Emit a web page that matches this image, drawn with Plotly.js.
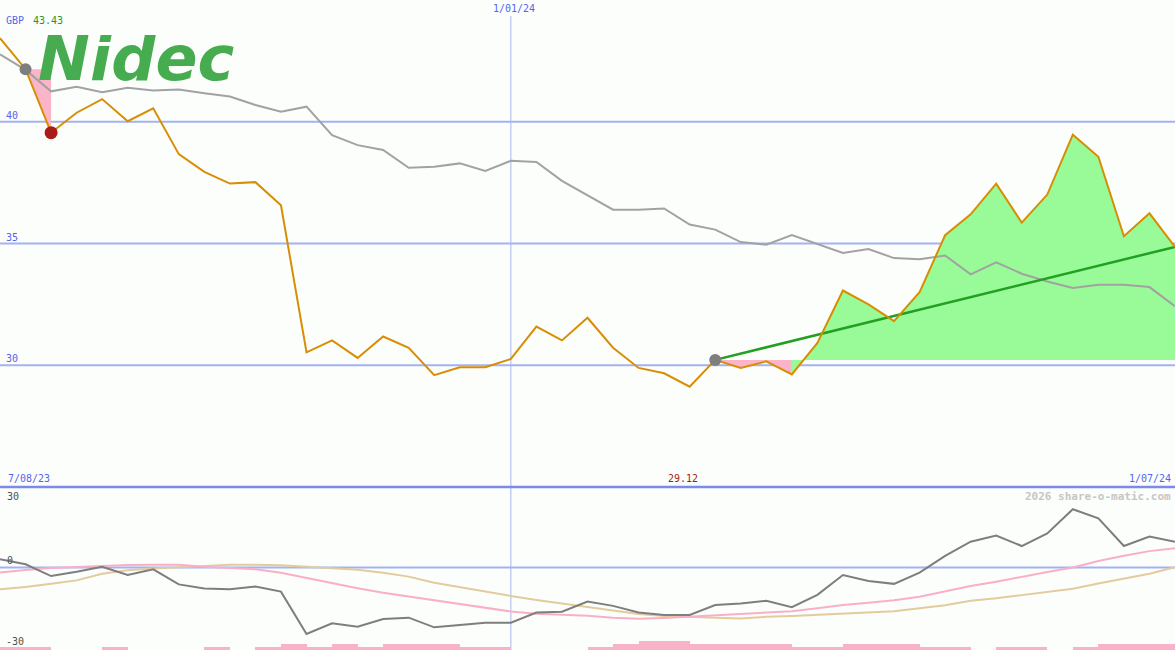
<!DOCTYPE html>
<html>
<head>
<meta charset="utf-8">
<script src="https://cdn.plot.ly/plotly-3.0.1.min.js"></script>
<style>
html,body{margin:0;padding:0;background:#FCFEFC;}
#chart{width:1175px;height:650px;}
</style>
</head>
<body>
<div id="chart"></div>
<script>
// ---- data ----
const dates = [
  '2023-08-07','2023-08-14','2023-08-21','2023-08-28','2023-09-04','2023-09-11','2023-09-18','2023-09-25',
  '2023-10-02','2023-10-09','2023-10-16','2023-10-23','2023-10-30','2023-11-06','2023-11-13','2023-11-20',
  '2023-11-27','2023-12-04','2023-12-11','2023-12-18',
  '2024-01-01','2024-01-08','2024-01-15','2024-01-22','2024-01-29','2024-02-05','2024-02-12','2024-02-19',
  '2024-02-26','2024-03-04','2024-03-11','2024-03-18','2024-03-25','2024-04-01','2024-04-08','2024-04-15',
  '2024-04-22','2024-04-29','2024-05-06','2024-05-13','2024-05-20','2024-05-27','2024-06-03','2024-06-10',
  '2024-06-17','2024-06-24','2024-07-01'
];
const price = [43.43, 42.16, 39.55, 40.37, 40.93, 40.02, 40.55, 38.67, 37.94, 37.46,
               37.52, 36.57, 30.53, 31.02, 30.30, 31.18, 30.72, 29.59, 29.92, 29.92,
               30.26, 31.59, 31.02, 31.95, 30.72, 29.89, 29.67, 29.12, 30.22, 29.89,
               30.16, 29.62, 30.92, 33.07, 32.50, 31.81, 33.00, 35.34, 36.20, 37.46,
               35.86, 37.01, 39.47, 38.56, 35.30, 36.24, 34.86];
const movingAvg = [42.77, 42.13, 41.25, 41.44, 41.21, 41.40, 41.28, 41.32, 41.17, 41.04,
                   40.69, 40.41, 40.62, 39.45, 39.04, 38.84, 38.11, 38.15, 38.29, 37.98,
                   38.40, 38.35, 37.57, 36.98, 36.39, 36.39, 36.44, 35.78, 35.57, 35.06,
                   34.95, 35.35, 34.97, 34.61, 34.77, 34.40, 34.35, 34.51, 33.73, 34.23,
                   33.76, 33.44, 33.17, 33.31, 33.31, 33.21, 32.42];
const momentum = [3.1, 1.2, -3.2, -1.6, 0.3, -2.8, -0.7, -6.3, -7.8, -8.1,
                  -7.1, -9.0, -24.8, -20.8, -22.1, -19.2, -18.7, -22.3, -21.4, -20.6,
                  -20.6, -16.8, -16.5, -12.7, -14.3, -16.8, -17.7, -17.7, -14.0, -13.4,
                  -12.4, -14.8, -10.2, -2.8, -5.0, -6.1, -1.9, 4.3, 9.6, 11.9,
                  8.0, 12.7, 21.7, 18.3, 8.0, 11.5, 9.6];
const momentumAvgFast = [-1.9, -0.9, -0.2, 0.2, 0.6, 0.9, 1.0, 1.0, 0.3, -0.3,
                         -0.7, -2.0, -3.9, -6.0, -7.7, -9.4, -10.8, -12.2, -13.6, -15.1,
                         -16.4, -17.2, -17.6, -18.0, -18.7, -19.1, -18.8, -18.3, -17.8, -17.1,
                         -16.6, -16.3, -15.2, -14.0, -13.1, -12.2, -10.9, -9.0, -6.9, -5.3,
                         -3.4, -1.7, 0.0, 2.4, 4.4, 6.1, 7.2];
const momentumAvgSlow = [-8.1, -7.3, -6.1, -4.8, -2.3, -1.0, -0.4, 0.0, 0.6, 1.0,
                         1.0, 0.8, 0.3, -0.2, -0.8, -2.0, -3.4, -5.7, -7.4, -9.0,
                         -10.6, -12.1, -13.4, -14.9, -16.2, -17.3, -18.1, -18.3, -18.7, -19.0,
                         -18.4, -18.1, -17.7, -17.2, -16.9, -16.3, -15.2, -14.1, -12.4, -11.5,
                         -10.3, -9.0, -7.9, -6.0, -4.1, -2.3, 0.1];
const volumeLevel = [1, 1, 0, 0, 1, 0, 0, 0, 1, 0,
                     1, 2, 1, 2, 1, 2, 2, 2, 1, 1,
                     0, 0, 0, 1, 2, 3, 3, 2, 2, 2,
                     2, 1, 1, 2, 2, 2, 1, 1, 0, 1,
                     1, 0, 1, 2, 2, 2, 0];
const priceGrid = [30, 35, 40];
const oscTicks = ['30', '0', '-30'];
const axisDateLabels = ['7/08/23', '1/01/24', '1/07/24'];
const currency = 'GBP';
const company = 'Nidec';
const credit = '2026 share-o-matic.com';
const signalStart = 1;     // index of first (sell) signal
const signalLow = 2;       // index of red marker
const trendStart = 28;     // index where trend line starts
const crossIdx = 31;       // index where shading turns green

// ---- derived ----
const n = dates.length;
const hi = Math.max(...price);
const lo = Math.min(...price);
const loIdx = price.indexOf(lo);
const yearIdx = dates.indexOf('2024-01-01');

const PINK = '#FBB4C8', GREEN = '#98FB98';
const traces = [];
function band(i0, i1, baseVal, color) {
  const xs = dates.slice(i0, i1 + 1);
  traces.push({x: xs, y: xs.map(() => baseVal), type: 'scatter', mode: 'lines',
    line: {width: 0, color: color}, hoverinfo: 'skip', showlegend: false});
  traces.push({x: xs, y: price.slice(i0, i1 + 1), type: 'scatter', mode: 'lines',
    line: {width: 0, color: color}, fill: 'tonexty', fillcolor: color, hoverinfo: 'skip', showlegend: false});
}
band(signalStart, signalLow, price[signalStart], PINK);
band(trendStart, crossIdx, price[trendStart], PINK);
band(crossIdx, n - 1, price[trendStart], GREEN);

traces.push({x: dates, y: movingAvg, type: 'scatter', mode: 'lines',
  line: {color: '#A2A2A2', width: 2}, hoverinfo: 'skip', showlegend: false});
traces.push({x: [dates[trendStart], dates[n - 1]], y: [price[trendStart], price[n - 1]],
  type: 'scatter', mode: 'lines', line: {color: '#22A022', width: 2.5}, hoverinfo: 'skip', showlegend: false});
traces.push({x: dates, y: price, type: 'scatter', mode: 'lines',
  line: {color: '#D88E04', width: 2}, hoverinfo: 'skip', showlegend: false});
traces.push({x: [dates[signalStart], dates[trendStart]], y: [price[signalStart], price[trendStart]],
  type: 'scatter', mode: 'markers', marker: {color: '#7E7E7E', size: 12}, hoverinfo: 'skip', showlegend: false});
traces.push({x: [dates[signalLow]], y: [price[signalLow]], type: 'scatter', mode: 'markers',
  marker: {color: '#A81C1C', size: 13}, hoverinfo: 'skip', showlegend: false});

// lower panel
traces.push({x: dates, y: volumeLevel, type: 'bar', xaxis: 'x', yaxis: 'y3', offset: 0, width: 1,
  marker: {color: '#F9B3C8', line: {width: 0}}, hoverinfo: 'skip', showlegend: false});
traces.push({x: dates, y: momentumAvgSlow, type: 'scatter', mode: 'lines', xaxis: 'x', yaxis: 'y2',
  line: {color: '#E2CC9C', width: 2}, hoverinfo: 'skip', showlegend: false});
traces.push({x: dates, y: momentumAvgFast, type: 'scatter', mode: 'lines', xaxis: 'x', yaxis: 'y2',
  line: {color: '#F9B0C6', width: 2}, hoverinfo: 'skip', showlegend: false});
traces.push({x: dates, y: momentum, type: 'scatter', mode: 'lines', xaxis: 'x', yaxis: 'y2',
  line: {color: '#7E7E7E', width: 2}, hoverinfo: 'skip', showlegend: false});

const W = 1175, H = 650;
const split = 1 - 487 / H;
const mono = 'DejaVu Sans Mono, monospace';
const BLUE_TXT = '#5565EE';

const shapes = [];
priceGrid.forEach(v => shapes.push({type: 'line', xref: 'paper', x0: 0, x1: 1, yref: 'y', y0: v, y1: v,
  line: {color: '#A4B2F2', width: 2}, layer: 'below'}));
shapes.push({type: 'line', xref: 'paper', x0: 0, x1: 1, yref: 'y2', y0: 0, y1: 0,
  line: {color: '#A4B2F2', width: 2}, layer: 'below'});
shapes.push({type: 'line', xref: 'x', x0: dates[yearIdx], x1: dates[yearIdx], yref: 'paper', y0: 0, y1: 1 - 16 / H,
  line: {color: '#A8B4F0', width: 1}, layer: 'below'});
shapes.push({type: 'line', xref: 'paper', x0: 0, x1: 1, yref: 'paper', y0: split, y1: split,
  line: {color: '#7C8AEC', width: 2.5}, layer: 'above'});

const ann = [];
priceGrid.forEach(v => ann.push({xref: 'paper', x: 4 / W, yref: 'y', y: v, xanchor: 'left', yanchor: 'bottom',
  yshift: -1, text: String(v), showarrow: false, font: {family: mono, size: 10, color: BLUE_TXT}}));
ann.push({xref: 'paper', x: 4 / W, yref: 'paper', y: 1 - 21 / H, xanchor: 'left', yanchor: 'middle',
  text: currency, showarrow: false, font: {family: mono, size: 10, color: BLUE_TXT}});
ann.push({xref: 'paper', x: 31 / W, yref: 'paper', y: 1 - 21 / H, xanchor: 'left', yanchor: 'middle',
  text: hi.toFixed(2), showarrow: false, font: {family: mono, size: 10, color: '#1E9A1E'}});
ann.push({xref: 'paper', x: 36 / W, yref: 'paper', y: 1 - 58 / H, xanchor: 'left', yanchor: 'middle',
  height: 46, valign: 'middle',
  text: '<b><i>' + company + '</i></b>', showarrow: false,
  font: {family: 'DejaVu Sans', size: 62, color: '#46AC4F'}});
ann.push({xref: 'x', x: dates[yearIdx], xshift: 3, yref: 'paper', y: 1 - 9 / H, xanchor: 'center', yanchor: 'middle',
  text: axisDateLabels[1], showarrow: false, font: {family: mono, size: 10, color: BLUE_TXT}});
ann.push({xref: 'paper', x: 6 / W, yref: 'paper', y: 1 - 478 / H, xanchor: 'left', yanchor: 'middle',
  text: axisDateLabels[0], showarrow: false, font: {family: mono, size: 10, color: BLUE_TXT}});
ann.push({xref: 'paper', x: 1173 / W, yref: 'paper', y: 1 - 478 / H, xanchor: 'right', yanchor: 'middle',
  text: axisDateLabels[2], showarrow: false, font: {family: mono, size: 10, color: BLUE_TXT}});
ann.push({xref: 'x', x: dates[loIdx], xshift: -7, yref: 'paper', y: 1 - 478 / H, xanchor: 'center', yanchor: 'middle',
  text: lo.toFixed(2), showarrow: false, font: {family: mono, size: 10, color: '#A01E1E'}});
ann.push({xref: 'paper', x: 1173 / W, yref: 'paper', y: 1 - 496 / H, xanchor: 'right', yanchor: 'middle',
  text: '<b>' + credit + '</b>', showarrow: false, font: {family: mono, size: 11, color: '#C6C6C6'}});
ann.push({xref: 'paper', x: 5 / W, yref: 'y2', y: Number(oscTicks[0]), xanchor: 'left', yanchor: 'top', yshift: -2,
  text: oscTicks[0], showarrow: false, font: {family: mono, size: 10, color: '#505050'}});
ann.push({xref: 'paper', x: 5 / W, yref: 'y2', y: Number(oscTicks[1]), xanchor: 'left', yanchor: 'bottom', yshift: -1,
  text: oscTicks[1], showarrow: false, font: {family: mono, size: 10, color: '#505050'}});
ann.push({xref: 'paper', x: 4 / W, yref: 'y2', y: Number(oscTicks[2]), xanchor: 'left', yanchor: 'bottom', yshift: -1,
  text: oscTicks[2], showarrow: false, font: {family: mono, size: 10, color: '#505050'}});

const hidden = {showgrid: false, zeroline: false, showticklabels: false, showline: false, ticks: '', fixedrange: true};
const layout = {
  width: W, height: H,
  margin: {l: 0, r: 0, t: 0, b: 0, pad: 0},
  paper_bgcolor: '#FCFEFC', plot_bgcolor: '#FCFEFC',
  showlegend: false, bargap: 0,
  xaxis: Object.assign({type: 'category', categoryorder: 'array', categoryarray: dates,
    range: [0, n - 1], anchor: 'y'}, hidden),
  yaxis: Object.assign({domain: [split, 1], range: [25, 45]}, hidden),
  yaxis2: Object.assign({domain: [0, split], range: [-30.75, 30], anchor: 'x'}, hidden),
  yaxis3: Object.assign({domain: [0, split], range: [0, (H - 487) / 3], anchor: 'x', overlaying: 'y2'}, hidden),
  shapes: shapes, annotations: ann
};
Plotly.newPlot('chart', traces, layout, {staticPlot: true, displayModeBar: false});
</script>
</body>
</html>
